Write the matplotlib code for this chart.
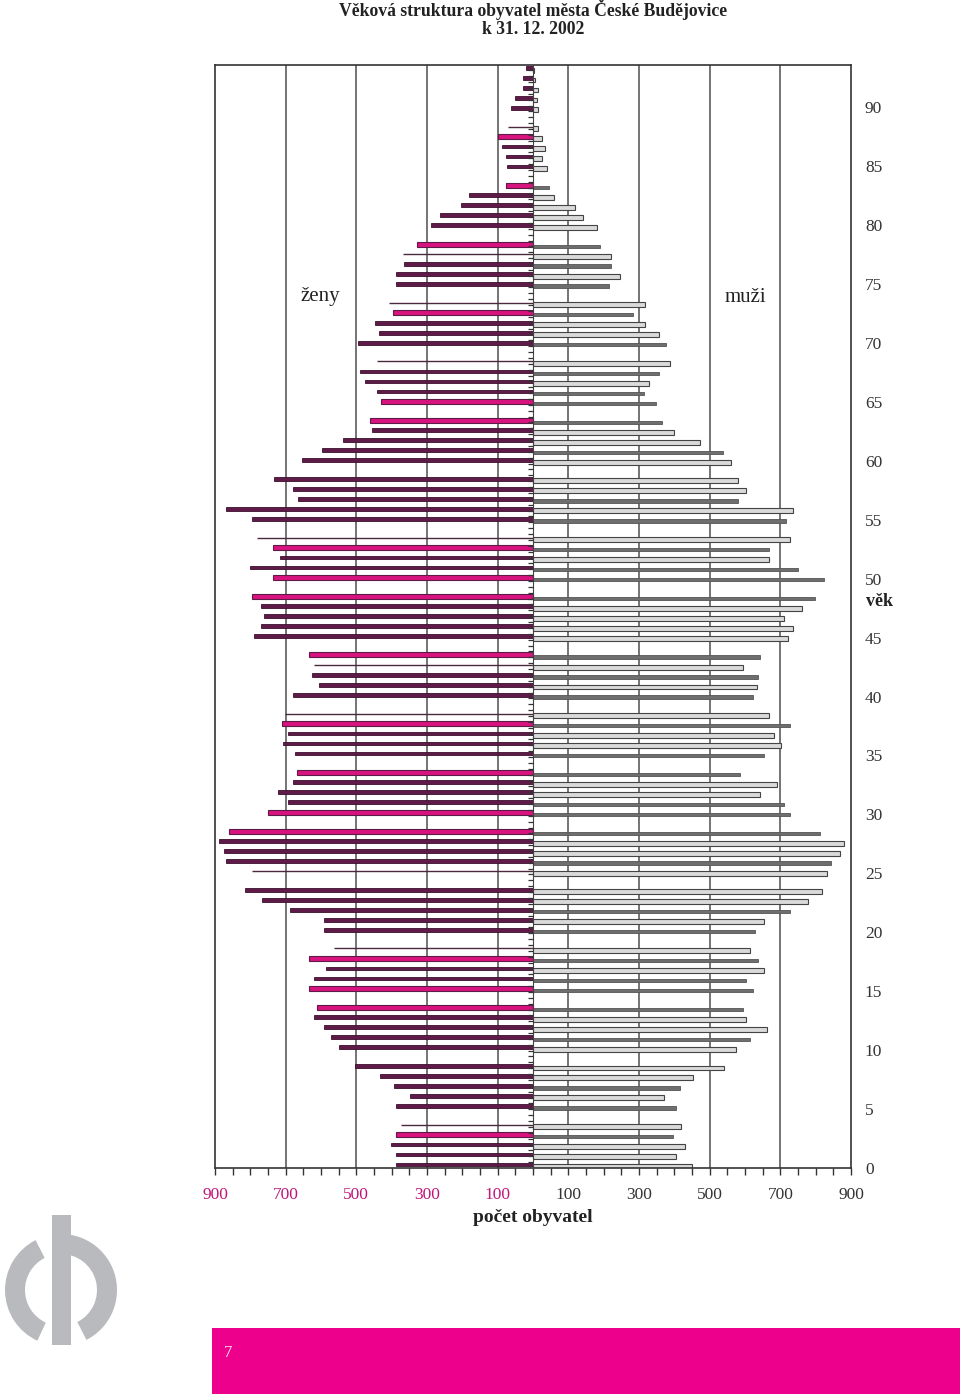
import numpy as np
import matplotlib.pyplot as plt
from matplotlib.patches import Wedge, Rectangle

plt.rcParams['font.family'] = ['Liberation Serif', 'DejaVu Serif']

# ages 0..94, population per single year of age
vek = list(range(95))
zeny = [388, 388, 402, 388, 373, 388, 349, 393, 432, 504,
        548, 573, 592, 621, 612, 635, 621, 587, 635, 562,
        592, 592, 689, 767, 815, 795, 869, 874, 888, 860,
        751, 694, 723, 679, 668, 674, 708, 694, 711, 703,
        680, 606, 626, 620, 635, 790, 771, 761, 771, 795,
        736, 801, 717, 736, 780, 796, 869, 664, 680, 733,
        655, 596, 539, 455, 460, 430, 441, 475, 489, 441,
        495, 436, 447, 397, 407, 388, 388, 365, 368, 329,
        290, 262, 203, 180, 76, 73, 76, 87, 100, 72,
        62, 52, 28, 28, 19]
muzi = [449, 405, 429, 395, 419, 405, 370, 415, 453, 541,
        574, 614, 662, 603, 594, 623, 603, 653, 637, 614,
        628, 653, 726, 778, 817, 833, 842, 870, 881, 813,
        726, 710, 642, 691, 586, 653, 701, 682, 726, 667,
        623, 633, 637, 594, 642, 721, 735, 710, 760, 798,
        823, 749, 667, 667, 726, 715, 735, 580, 603, 580,
        560, 537, 473, 400, 366, 347, 313, 327, 356, 388,
        375, 356, 318, 283, 318, 215, 245, 220, 220, 191,
        181, 142, 118, 59, 45, 40, 25, 35, 25, 15,
        15, 11, 15, 6, 3]

# how the bars look in the scanned original
zeny_ruzove = [88, 84, 79, 73, 65, 64, 53, 50, 49, 44, 38, 34, 30, 29, 18, 15, 14, 3]
zeny_tenke = [89, 78, 74, 69, 54, 43, 39, 25, 19, 4]
muzi_tmave = [84, 79, 77, 75, 73, 70, 68, 66, 65, 64, 61, 57, 55, 53, 51, 50, 49,
              44, 42, 40, 38, 35, 34, 31, 30, 29, 26, 22, 20, 18, 16, 15, 14, 11, 7, 5, 3]

popisky_x = [-900, -700, -500, -300, -100, 100, 300, 500, 700, 900]
popisky_vek = list(range(0, 95, 5))


def poloha(a):
    # the original squeezes the four bars above every fifth age together
    return 5 * (a // 5) + 0.85 * (a % 5)


W, H = 960, 1394
fig = plt.figure(figsize=(W / 100, H / 100), dpi=100)

# background layer in pixel coordinates (logo, footer)
bg = fig.add_axes([0, 0, 1, 1])
bg.set_xlim(0, W)
bg.set_ylim(H, 0)
bg.axis('off')
bg.add_patch(Rectangle((212, 1328), W - 212, H - 1328, color='#ec008c', lw=0))
bg.text(228, 1353, '7', color='#fde6f2', fontsize=12, ha='center', va='center')
sed = '#b9babe'
bg.add_patch(Wedge((61, 1290), 56, 115, 243, width=20, color=sed, lw=0))
bg.add_patch(Wedge((61, 1290), 56, -90, 63, width=20, color=sed, lw=0))
bg.add_patch(Rectangle((52, 1215), 19, 130, color=sed, lw=0))

ax = fig.add_axes([215 / W, (H - 1168) / H, 636 / W, 1103 / H])
ax.set_xlim(-900, 900)
ax.set_ylim(0, 93.95)

# grid
ax.vlines([-700, -500, -300, -100, 100, 300, 500, 700], 0, 93.95,
          color='#5c5c5c', lw=1.2, zorder=0)

# women
for a in vek:
    y = poloha(a) + 0.3
    if a in zeny_tenke:
        ax.hlines(y, -zeny[a], 0, color='#4b2840', lw=1.0, zorder=2)
    elif a in zeny_ruzove:
        ax.barh(y, -zeny[a], height=0.42, color='#d8137f', edgecolor='#5e1b47',
                lw=0.8, zorder=2)
    else:
        ax.barh(y, -zeny[a], height=0.32, color='#5e1b47', edgecolor='#3d0f2e',
                lw=0.6, zorder=2)

# men
for a in vek:
    y = poloha(a) + 0.12
    if a in muzi_tmave:
        ax.barh(y, muzi[a], height=0.28, color='#6e6e6e', edgecolor='#555555',
                lw=0.6, zorder=2)
    else:
        ax.barh(y, muzi[a], height=0.42, color='#dadada', edgecolor='#444444',
                lw=0.8, zorder=2)

# center axis with its little ticks
ax.axvline(0, color='#444444', lw=0.8, zorder=3)
ax.hlines(np.arange(0, 94, 0.5), -14, 0, color='#333333', lw=0.9, zorder=3)

for s in ax.spines.values():
    s.set_color('#333333')
    s.set_linewidth(1.2)

ax.set_xticks(np.arange(-900, 901, 50))
ax.set_xticklabels([str(abs(v)) if v in popisky_x else '' for v in np.arange(-900, 901, 50)])
ax.tick_params(axis='x', direction='out', length=5, width=1, color='#333333',
               labelsize=12.5, pad=9)
for lab, v in zip(ax.get_xticklabels(), np.arange(-900, 901, 50)):
    lab.set_color('#c0157a' if v < 0 else '#333333')

ax.yaxis.tick_right()
ax.set_yticks([a * 1.004 for a in popisky_vek])
ax.set_yticklabels([str(a) for a in popisky_vek])
ax.tick_params(axis='y', length=0, pad=10, labelsize=12.5, labelcolor='#333333')


def ftext(x, y, s, **kw):
    fig.text(x / W, 1 - y / H, s, ha='center', va='center', color='#222222', **kw)


ftext(533, 10, 'Věková struktura obyvatel města České Budějovice', fontsize=12.7, fontweight='bold')
ftext(533, 29, 'k 31. 12. 2002', fontsize=12.7, fontweight='bold')
ftext(320, 297, 'ženy', fontsize=15)
ftext(745, 297, 'muži', fontsize=15)
ftext(880, 602, 'věk', fontsize=13, fontweight='bold')
ftext(533, 1218, 'počet obyvatel', fontsize=14, fontweight='bold')

plt.savefig('out.png', dpi=100)
